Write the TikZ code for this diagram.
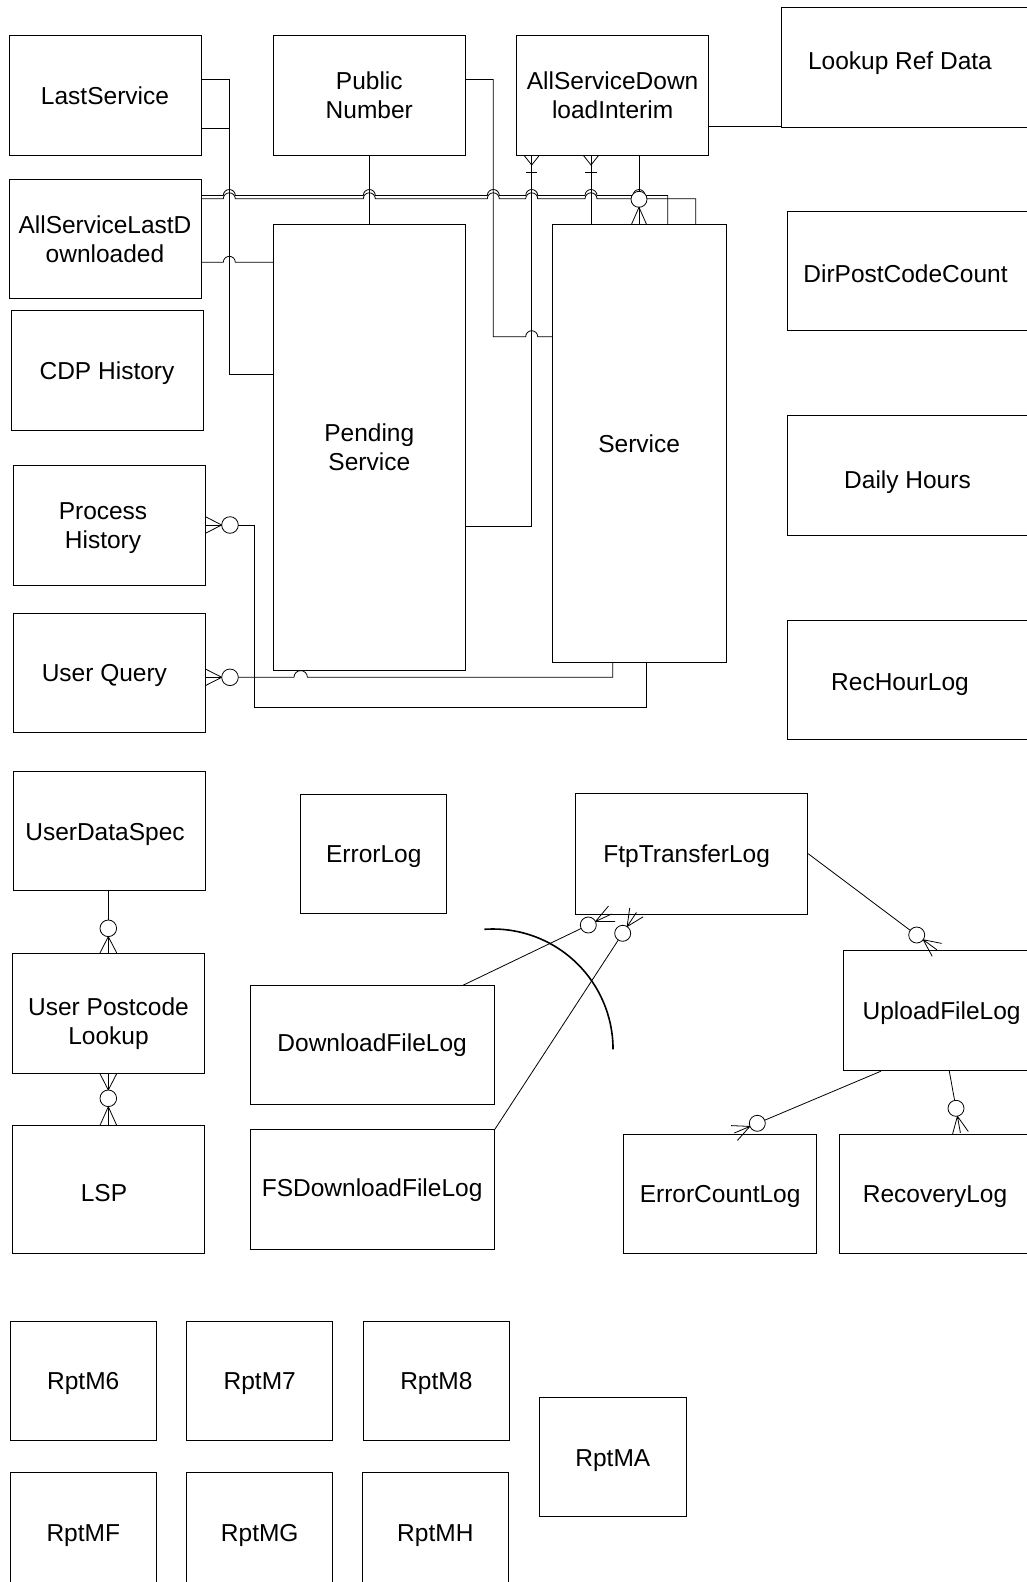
\documentclass[tikz,border=0pt]{standalone}
\usepackage{fontspec}
\setmainfont{Liberation Sans}
\newcommand{\entfont}{\fontsize{24.5pt}{29pt}\selectfont}
\tikzset{
  ent/.style={draw=black, line width=0.9pt, rectangle, inner sep=0pt, align=center, font=\entfont},
  sz/.style 2 args={minimum width=#1pt, minimum height=#2pt},
  one/.style={text height=17.5pt, text depth=0pt},
  lbl/.style={align=center, font=\entfont, inner sep=0pt},
  conn/.style={draw=black, line width=0.8pt},
  ring/.style={draw=black, line width=0.8pt, fill=white},
  arcline/.style={draw=black, line width=1.6pt},
}
\begin{document}
\begin{tikzpicture}[x=1pt, y=-1pt]
\useasboundingbox (0,0) rectangle (1027,1582);
\fill[white] (0,0) rectangle (1027,1582);
\clip (0,0) rectangle (1027,1582);

% ---------- entities ----------
\node[ent, one, sz={192}{119.6}] (lastsvc) at (105,95.5) {LastService};
\node[ent, sz={192}{119.6}] (pubnum) at (369.3,95.5) {Public\\Number};
\node[ent, sz={192}{119.6}] (asdi) at (612.6,95.5) {AllServiceDown\\loadInterim};
\node[ent, sz={258.3}{120.2}, label={[lbl,one,xshift=-10.9pt,yshift=7pt]center:Lookup Ref Data}] (lookup) at (910.85,67.6) {};
\node[ent, sz={192}{119}] (asld) at (105,239.1) {AllServiceLastD\\ownloaded};
\node[ent, one, sz={192}{120}] (cdp) at (107,370.8) {CDP History};
\node[ent, sz={192}{120}, label={[lbl,xshift=-6pt,yshift=-3pt]center:Process\\History}] (proc) at (109,525) {};
\node[ent, sz={192}{119}, label={[lbl,one,xshift=-4.6pt]center:User Query}] (uq) at (109,672.9) {};
\node[ent, sz={192}{446}] (pend) at (369.3,447) {Pending\\Service};
\node[ent, one, sz={173.7}{438}] (svc) at (639.15,443.3) {Service};
\node[ent, sz={253}{119}, label={[lbl,one,xshift=-8pt,yshift=-2pt]center:DirPostCodeCount}] (dpcc) at (913.5,271.4) {};
\node[ent, sz={253}{120}, label={[lbl,one,xshift=-6pt,yshift=-4pt]center:Daily Hours}] (daily) at (913.5,475.7) {};
\node[ent, sz={253}{119}, label={[lbl,one,xshift=-13.5pt,yshift=-2pt]center:RecHourLog}] (rechour) at (913.5,680) {};

\node[ent, sz={192}{119}, label={[lbl,one,xshift=-4pt]center:UserDataSpec}] (uds) at (109,831.3) {};
\node[ent, sz={191.6}{120}, label={[lbl,yshift=-10pt]center:User Postcode\\Lookup}] (upl) at (108.5,1013.3) {};
\node[ent, sz={192}{127.2}, label={[lbl,one,xshift=-4pt,yshift=-3pt]center:LSP}] (lsp) at (108,1189.4) {};
\node[ent, one, sz={146.3}{119}] (errlog) at (373.75,853.5) {ErrorLog};
\node[ent, sz={232}{120.7}, label={[lbl,one,xshift=-5pt]center:FtpTransferLog}] (ftp) at (691.7,853.7) {};
\node[ent, sz={244.3}{119}] (dfl) at (372.15,1045.2) {DownloadFileLog};
\node[ent, sz={244.3}{120}] (fsdfl) at (372.15,1189.9) {FSDownloadFileLog};
\node[ent, one, sz={196.7}{120}] (upload) at (941.65,1010.7) {UploadFileLog};
\node[ent, one, sz={193.2}{119}] (ecl) at (720.1,1193.5) {ErrorCountLog};
\node[ent, sz={200.7}{119}, label={[lbl,one,xshift=-4.6pt]center:RecoveryLog}] (recov) at (939.65,1193.5) {};

\node[ent, one, sz={146.3}{119}] (rpt6) at (83.25,1381.1) {RptM6};
\node[ent, one, sz={146.3}{119}] (rpt7) at (259.75,1381.1) {RptM7};
\node[ent, one, sz={146.3}{119}] (rpt8) at (436.35,1381.1) {RptM8};
\node[ent, one, sz={146.3}{119}] (rptA) at (612.85,1457.25) {RptMA};
\node[ent, one, sz={146.3}{119}] (rptF) at (83.25,1532.4) {RptMF};
\node[ent, one, sz={146.3}{119}] (rptG) at (259.75,1532.4) {RptMG};
\node[ent, one, sz={146.3}{119}] (rptH) at (435.35,1532.4) {RptMH};

% ---------- top group ----------
% LastService -> Pending Service (two links sharing one trunk)
\coordinate (trunk) at (229.3,128);
\draw[conn] (lastsvc.east |- 0,79.5) -- (229.3,79.5) -- (229.3,374) -- (pend.west |- 0,374);
\draw[conn] (lastsvc.east |- 0,128) -- (trunk);

% AllServiceLastDownloaded -> Service (two parallel links with line hops)
\draw[conn] (asld.east |- 0,195.5) -- (223.3,195.5) arc[start angle=180,end angle=0,radius=6pt]
  -- (363.3,195.5) arc[start angle=180,end angle=0,radius=6pt]
  -- (487.3,195.5) arc[start angle=180,end angle=0,radius=6pt]
  -- (525.7,195.5) arc[start angle=180,end angle=0,radius=6pt]
  -- (585,195.5) arc[start angle=180,end angle=0,radius=6pt]
  -- (633,195.5) arc[start angle=180,end angle=0,radius=6pt]
  -- (667.7,195.5) -- (667.7,0 |- svc.north);
\draw[conn] (asld.east |- 0,198.8) -- (223.3,198.8) arc[start angle=180,end angle=0,radius=6pt]
  -- (363.3,198.8) arc[start angle=180,end angle=0,radius=6pt]
  -- (487.3,198.8) arc[start angle=180,end angle=0,radius=6pt]
  -- (525.7,198.8) arc[start angle=180,end angle=0,radius=6pt]
  -- (585,198.8) arc[start angle=180,end angle=0,radius=6pt]
  -- (633,198.8) arc[start angle=180,end angle=0,radius=6pt]
  -- (695.7,198.8) -- (695.7,0 |- svc.north);

% AllServiceLastDownloaded -> Pending Service
\draw[conn] (asld.east |- 0,262.3) -- (223.3,262.3) arc[start angle=180,end angle=0,radius=6pt]
  -- (pend.west |- 0,262.3);

% Public Number -> Pending Service / Service
\draw[conn] (pubnum.south) -- (pend.north);
\draw[conn] (pubnum.east |- 0,79.5) -- (493.3,79.5) -- (493.3,336.7) -- (525.7,336.7)
  arc[start angle=180,end angle=0,radius=6pt] -- (svc.west |- 0,336.7);

% AllServiceDownloadInterim -> Pending Service (one-or-many at the parent)
\draw[conn] (531.7,0 |- asdi.south) -- (531.7,526) -- (pend.east |- 0,526);
\draw[conn] (524,155.3) -- (531.7,165) -- (539.4,155.3);
\draw[conn] (526,172.3) -- (537.4,172.3);

% AllServiceDownloadInterim -> Service
\draw[conn] (591,0 |- asdi.south) -- (591,0 |- svc.north);
\draw[conn] (583.3,155.3) -- (591,165) -- (598.7,155.3);
\draw[conn] (585.3,172.3) -- (596.7,172.3);

% AllServiceDownloadInterim -> Service (zero-or-many)
\draw[conn] (639,0 |- asdi.south) -- (639,191.3);
\draw[ring] (639,199.3) circle[radius=8pt];
\draw[conn] (639,207.3) -- (639,0 |- svc.north);
\draw[conn] (631.5,224.3) -- (639,207.3) -- (646.5,224.3);

% AllServiceDownloadInterim -> Lookup Ref Data
\draw[conn] (asdi.east |- 0,126) -- (lookup.west |- 0,126);

% Process History -> Service
\draw[conn] (proc.east |- 0,516.7) -- (221.7,525) -- (proc.east |- 0,533.3);
\draw[conn] (proc.east) -- (221.7,525);
\draw[ring] (230,525) circle[radius=8.3pt];
\draw[conn] (238.3,525) -- (254.3,525) -- (254.3,707.7) -- (646,707.7) -- (646,0 |- svc.south);

% User Query -> Service
\draw[conn] (uq.east |- 0,669) -- (221.7,677.3) -- (uq.east |- 0,685.6);
\draw[conn] (uq.east |- 0,677.3) -- (221.7,677.3);
\draw[ring] (230,677.3) circle[radius=8.3pt];
\draw[conn] (238.3,677.3) -- (294,677.3) arc[start angle=180,end angle=0,radius=6.7pt]
  -- (612.7,677.3) -- (612.7,0 |- svc.south);

% ---------- lower left ----------
% UserDataSpec -> User Postcode Lookup
\draw[conn] (108.3,0 |- uds.south) -- (108.3,920);
\draw[ring] (108.3,928.3) circle[radius=8.3pt];
\draw[conn] (100,0 |- upl.north) -- (108.3,936.7) -- (116.7,0 |- upl.north);
\draw[conn] (108.3,936.7) -- (108.3,0 |- upl.north);

% User Postcode Lookup -> LSP
\draw[conn] (100,0 |- upl.south) -- (108.3,1090) -- (116.7,0 |- upl.south);
\draw[conn] (108.3,0 |- upl.south) -- (108.3,1090);
\draw[ring] (108.3,1098.3) circle[radius=8.3pt];
\draw[conn] (100,0 |- lsp.north) -- (108.3,1106.7) -- (116.7,0 |- lsp.north);
\draw[conn] (108.3,1106.7) -- (108.3,0 |- lsp.north);

% ---------- transfer logs ----------
% DownloadFileLog -> FtpTransferLog
\draw[conn] (463,0 |- dfl.north) -- (581.1,928.5);
\draw[ring] (588.3,925) circle[radius=8pt];
\draw[conn] (595.5,921.5) -- (608.5,906) (595.5,921.5) -- (611.5,914) (595.5,921.5) -- (615,921.5);

% FSDownloadFileLog -> FtpTransferLog
\draw[conn] (fsdfl.north east) -- (618.3,940);
\draw[ring] (622.7,933.3) circle[radius=8pt];
\draw[conn] (627.1,926.6) -- (629.7,908) (627.1,926.6) -- (636.4,912.4) (627.1,926.6) -- (643.1,916.8);

% FtpTransferLog -> UploadFileLog
\draw[conn] (ftp.east) -- (910.2,930.3);
\draw[ring] (916.7,935) circle[radius=8pt];
\draw[conn] (923.2,939.7) -- (941.6,943.4) (923.2,939.7) -- (936.9,949.8) (923.2,939.7) -- (932.2,956.3);

% UploadFileLog -> ErrorCountLog
\draw[conn] (881,0 |- upload.south) -- (764.7,1120.2);
\draw[ring] (757.3,1123.3) circle[radius=8pt];
\draw[conn] (749.9,1126.4) -- (731.2,1125.6) (749.9,1126.4) -- (734.3,1133) (749.9,1126.4) -- (737.4,1140.4);

% UploadFileLog -> RecoveryLog
\draw[conn] (949.3,0 |- upload.south) -- (954.6,1100.4);
\draw[ring] (956,1108.3) circle[radius=8pt];
\draw[conn] (957.4,1116.2) -- (952.5,1134.3) (957.4,1116.2) -- (960.4,1132.9) (957.4,1116.2) -- (968.3,1131.5);

% grouping arc across the download links
\draw[arcline] (484.4,929.3) arc[start angle=94,end angle=0,radius=120.25pt];
\end{tikzpicture}
\end{document}
